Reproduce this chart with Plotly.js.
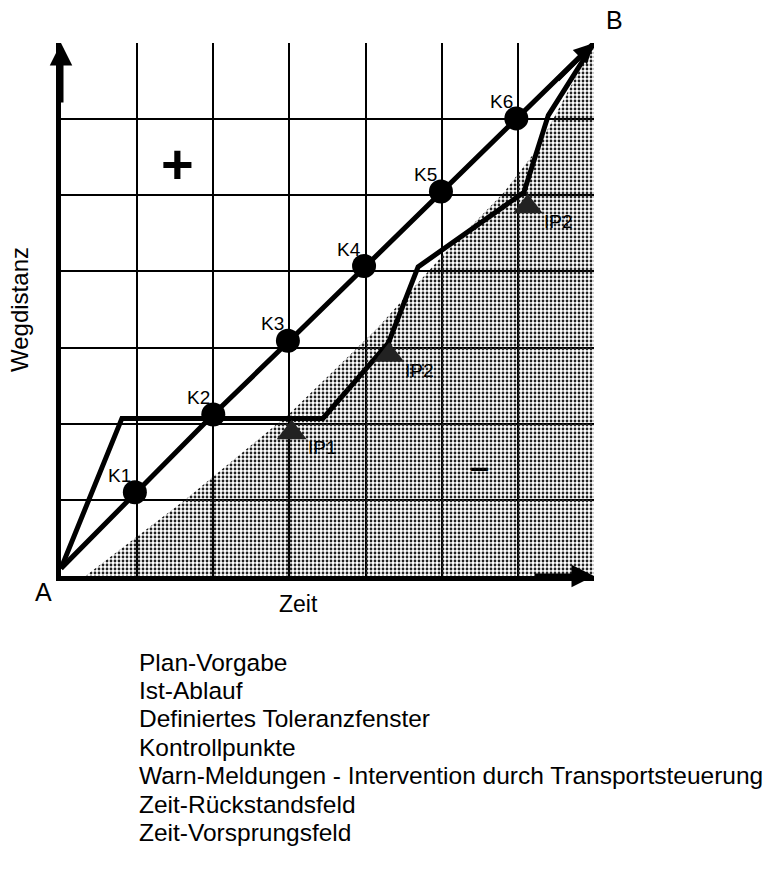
<!DOCTYPE html>
<html>
<head>
<meta charset="utf-8">
<script src="https://cdn.plot.ly/plotly-3.0.1.min.js"></script>
<style>html,body{margin:0;padding:0;background:#fff;}#chart{width:781px;height:889px;}</style>
</head>
<body>
<div id="chart"></div>
<script>
// ---- data (grid units: Zeit / Wegdistanz) ----
const planX = [0, 1, 2, 3, 4, 5, 6, 7];
const planY = [0.1, 1.1, 2.12, 3.09, 4.07, 5.05, 6.01, 7];

const kLabels = ["K1", "K2", "K3", "K4", "K5", "K6"];
const kX = [0.97, 2, 2.98, 3.98, 4.99, 5.98];
const kY = [1.1, 2.12, 3.09, 4.07, 5.05, 6.01];

const istX = [0, 0.8, 3.44, 4.3, 4.69, 6.08, 6.4, 7];
const istY = [0.1, 2.07, 2.07, 3.06, 4.06, 5.04, 6.05, 7];

const ipLabels = ["IP1", "IP2", "IP2"];
const ipX = [3.03, 4.31, 6.13];
const ipY = [1.88, 2.9, 4.85];

const shadeX = [0.32, 1.63, 3.01, 4.15, 5.02, 5.81, 6.25, 7, 7, 0.32];
const shadeY = [0, 1, 2.14, 3.25, 4.22, 5.03, 5.6, 7, 0, 0];

const legendTexts = [
  "Plan-Vorgabe",
  "Ist-Ablauf",
  "Definiertes Toleranzfenster",
  "Kontrollpunkte",
  "Warn-Meldungen - Intervention durch Transportsteuerung",
  "Zeit-Rückstandsfeld",
  "Zeit-Vorsprungsfeld"
];

// ---- layout helpers ----
const FONT = "Liberation Sans, Arial, sans-serif";
const L = 61, T = 43, W = 533, H = 533;
const px2paperX = px => (px - L) / W;
const px2paperY = py => (T + H - py) / H;

const traces = [
  {
    x: shadeX, y: shadeY, mode: "lines", fill: "toself",
    line: {width: 0, color: "rgba(0,0,0,0)"},
    fillcolor: "rgba(0,0,0,0)",
    fillpattern: {shape: ".", fgcolor: "#222", bgcolor: "rgba(255,255,255,0)", size: 4, solidity: 0.38},
    hoverinfo: "skip", showlegend: false
  },
  {
    x: planX, y: planY, mode: "lines",
    line: {color: "#000", width: 5}, showlegend: false
  },
  {
    x: istX, y: istY, mode: "lines",
    line: {color: "#000", width: 5}, showlegend: false
  },
  {
    x: kX, y: kY, mode: "markers",
    marker: {color: "#000", size: 24, symbol: "circle"}, showlegend: false
  },
  {
    x: ipX, y: ipY, mode: "markers",
    marker: {color: "#222", size: 26, symbol: "triangle-up", line: {width: 0}}, showlegend: false
  }
];

const annotations = [];
kLabels.forEach((t, i) => annotations.push({
  x: kX[i], y: kY[i], xref: "x", yref: "y", text: t, showarrow: false,
  xanchor: "center", yanchor: "middle",
  xshift: -15, yshift: 17, font: {family: FONT, size: 19, color: "#000"}
}));
ipLabels.forEach((t, i) => annotations.push({
  x: ipX[i], y: ipY[i], xref: "x", yref: "y", text: t, showarrow: false,
  xanchor: "left", yanchor: "middle", xshift: 14, yshift: -15, font: {family: FONT, size: 19, color: "#000"}
}));
// axis arrows
annotations.push({x: 0, y: 7, ax: 0, ay: 6.2, xref: "x", yref: "y", axref: "x", ayref: "y",
  text: "", showarrow: true, arrowhead: 2, arrowsize: 0.9, arrowwidth: 5, arrowcolor: "#000"});
annotations.push({x: 7, y: 0, ax: 6.2, ay: 0, xref: "x", yref: "y", axref: "x", ayref: "y",
  text: "", showarrow: true, arrowhead: 2, arrowsize: 0.9, arrowwidth: 5, arrowcolor: "#000"});
// arrow at B along plan line
annotations.push({x: 7, y: 7, ax: 6.5, ay: 6.5, xref: "x", yref: "y", axref: "x", ayref: "y",
  text: "", showarrow: true, arrowhead: 2, arrowsize: 0.8, arrowwidth: 5, arrowcolor: "#000"});

function paperText(text, pxX, pxY, size) {
  annotations.push({x: px2paperX(pxX), y: px2paperY(pxY), xref: "paper", yref: "paper",
    xanchor: "center", yanchor: "middle", text: text, showarrow: false,
    font: {family: FONT, size: size, color: "#000"}});
}
paperText("A", 43, 592, 25);
paperText("B", 614, 20, 25);
paperText("Zeit", 298, 604, 23);
paperText("<b>+</b>", 177, 163, 56);
paperText("<b>–</b>", 479, 466, 34);

// legend text lines
legendTexts.forEach((t, i) => annotations.push({
  x: px2paperX(137), y: px2paperY(662 + i * 28.4), xref: "paper", yref: "paper",
  xanchor: "left", yanchor: "middle", text: t, showarrow: false,
  font: {family: FONT, size: 24.5, color: "#000"}
}));

const layout = {
  width: 781, height: 889,
  margin: {l: L, r: 781 - L - W, t: T, b: 889 - T - H},
  paper_bgcolor: "#fff", plot_bgcolor: "#fff",
  showlegend: false,
  xaxis: {
    range: [0, 7], dtick: 1, tick0: 0, showticklabels: false, ticks: "",
    showgrid: true, gridcolor: "#000", gridwidth: 2, zeroline: false,
    showline: true, linecolor: "#000", linewidth: 5,
    fixedrange: true
  },
  yaxis: {
    range: [0, 7], dtick: 1, tick0: 0, showticklabels: false, ticks: "",
    showgrid: true, gridcolor: "#000", gridwidth: 2, zeroline: false,
    showline: true, linecolor: "#000", linewidth: 5,
    title: {text: "Wegdistanz", font: {family: FONT, size: 24, color: "#000"}, standoff: 22},
    fixedrange: true
  },
  annotations: annotations
};

Plotly.newPlot("chart", traces, layout, {displayModeBar: false, staticPlot: true});
</script>
</body>
</html>
